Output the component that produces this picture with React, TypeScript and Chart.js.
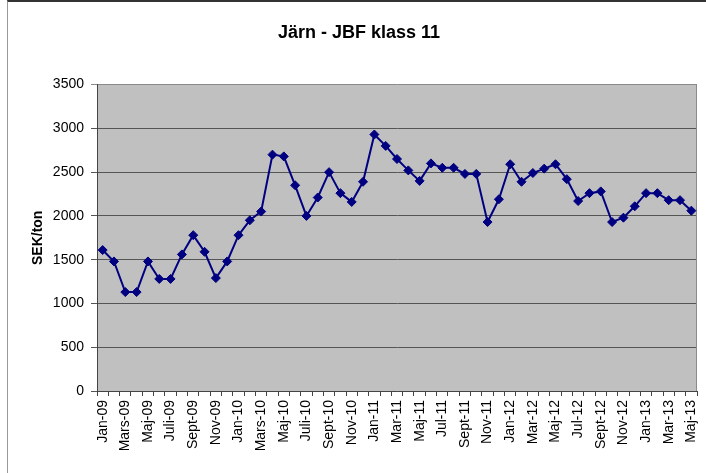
import React, { useEffect, useRef } from "react";
import { Chart, registerables } from "chart.js";

Chart.register(...registerables);

const TITLE = "Järn - JBF klass 11";
const Y_TITLE = "SEK/ton";

const months = [
  "Jan-09", "Feb-09", "Mars-09", "Apr-09", "Maj-09", "Juni-09", "Juli-09", "Aug-09", "Sept-09", "Okt-09", "Nov-09", "Dec-09",
  "Jan-10", "Feb-10", "Mars-10", "Apr-10", "Maj-10", "Juni-10", "Juli-10", "Aug-10", "Sept-10", "Okt-10", "Nov-10", "Dec-10",
  "Jan-11", "Feb-11", "Mar-11", "Apr-11", "Maj-11", "Jun-11", "Jul-11", "Aug-11", "Sept-11", "Okt-11", "Nov-11", "Dec-11",
  "Jan-12", "Feb-12", "Mar-12", "Apr-12", "Maj-12", "Jun-12", "Jul-12", "Aug-12", "Sept-12", "Okt-12", "Nov-12", "Dec-12",
  "Jan-13", "Feb-13", "Mar-13", "Apr-13", "Maj-13",
];

const prices2009 = [1610, 1480, 1130, 1130, 1480, 1280, 1280, 1560, 1780, 1590, 1290, 1480];
const prices2010 = [1780, 1950, 2050, 2700, 2680, 2350, 2000, 2210, 2500, 2260, 2160, 2390];
const prices2011 = [2930, 2800, 2650, 2520, 2400, 2600, 2550, 2550, 2480, 2480, 1930, 2190];
const prices2012 = [2590, 2390, 2490, 2540, 2590, 2420, 2170, 2260, 2280, 1930, 1980, 2110];
const prices2013 = [2260, 2260, 2180, 2180, 2060];

const prices = [...prices2009, ...prices2010, ...prices2011, ...prices2012, ...prices2013];

const Y_MIN = 0;
const Y_MAX = 3500;
const Y_STEP = 500;

const FONT = "'Liberation Sans', Arial, sans-serif";

const plotBg = {
  id: "plotBg",
  beforeDraw(chart: any) {
    const { ctx, chartArea } = chart;
    ctx.save();
    ctx.fillStyle = "#C0C0C0";
    ctx.fillRect(chartArea.left, chartArea.top, chartArea.right - chartArea.left, chartArea.bottom - chartArea.top);
    ctx.restore();
  },
  beforeDatasetsDraw(chart: any) {
    const { ctx, chartArea } = chart;
    ctx.save();
    ctx.strokeStyle = "#8a8a8a";
    ctx.lineWidth = 1;
    ctx.beginPath();
    ctx.moveTo(chartArea.right - 0.5, chartArea.top);
    ctx.lineTo(chartArea.right - 0.5, chartArea.bottom);
    ctx.stroke();
    ctx.restore();
  },
};

export default function App() {
  const ref = useRef<HTMLCanvasElement | null>(null);

  useEffect(() => {
    if (!ref.current) return;
    const chart = new Chart(ref.current, {
      type: "line",
      data: {
        labels: months,
        datasets: [
          {
            data: prices,
            borderColor: "#000080",
            backgroundColor: "#000080",
            borderWidth: 2,
            pointStyle: "rectRot",
            pointRadius: 4.5,
            pointBorderWidth: 1,
            pointBackgroundColor: "#000080",
            pointBorderColor: "#000080",
            tension: 0,
          },
        ],
      },
      options: {
        responsive: false,
        animation: false,
        layout: { padding: { left: 21, right: 9, top: 0, bottom: 0 } },
        plugins: {
          legend: { display: false },
          tooltip: { enabled: false },
          title: {
            display: true,
            text: TITLE,
            color: "#000",
            font: { family: FONT, size: 18, weight: "bold" },
            padding: { top: 22, bottom: 41 },
          },
        },
        scales: {
          x: {
            type: "category",
            offset: true,
            afterFit(scale: any) {
              scale.height = 82;
              scale.paddingLeft = 0;
              scale.paddingRight = 0;
            },
            grid: {
              offset: true,
              drawOnChartArea: false,
              drawTicks: true,
              tickLength: 5,
              color: "#444",
            },
            border: { color: "#444", width: 1 },
            ticks: {
              autoSkip: false,
              maxRotation: 90,
              minRotation: 90,
              padding: 4,
              color: "#000",
              font: { family: FONT, size: 14 },
              callback: (_v: any, i: number) => (i % 2 === 0 ? months[i] : ""),
            },
          },
          y: {
            min: Y_MIN,
            max: Y_MAX,
            afterFit(scale: any) {
              scale.width = 76;
            },
            grid: {
              color: (c: any) => (c.tick && c.tick.value === Y_MAX ? "#8a8a8a" : "#555"),
              lineWidth: 1,
              tickLength: 6,
            },
            border: { color: "#444", width: 1 },
            ticks: {
              stepSize: Y_STEP,
              padding: 7,
              color: "#000",
              font: { family: FONT, size: 14 },
              callback: (v: any) => String(v),
            },
            title: {
              display: true,
              text: Y_TITLE,
              color: "#000",
              font: { family: FONT, size: 14, weight: "bold" },
              padding: { top: 9, bottom: 0 },
            },
          },
        },
      },
      plugins: [plotBg],
    });
    return () => chart.destroy();
  }, []);

  return (
    <div style={{ position: "absolute", left: 0, top: 0, width: 706, height: 473, background: "#fff" }}>
      <canvas ref={ref} width={706} height={473} style={{ position: "absolute", left: 0, top: 0, width: 706, height: 473 }} />
      <div
        style={{
          position: "absolute",
          left: 7,
          top: 0,
          width: 699,
          height: 473,
          borderTop: "2px solid #333",
          borderLeft: "1px solid #999",
          boxSizing: "border-box",
          pointerEvents: "none",
        }}
      />
    </div>
  );
}
